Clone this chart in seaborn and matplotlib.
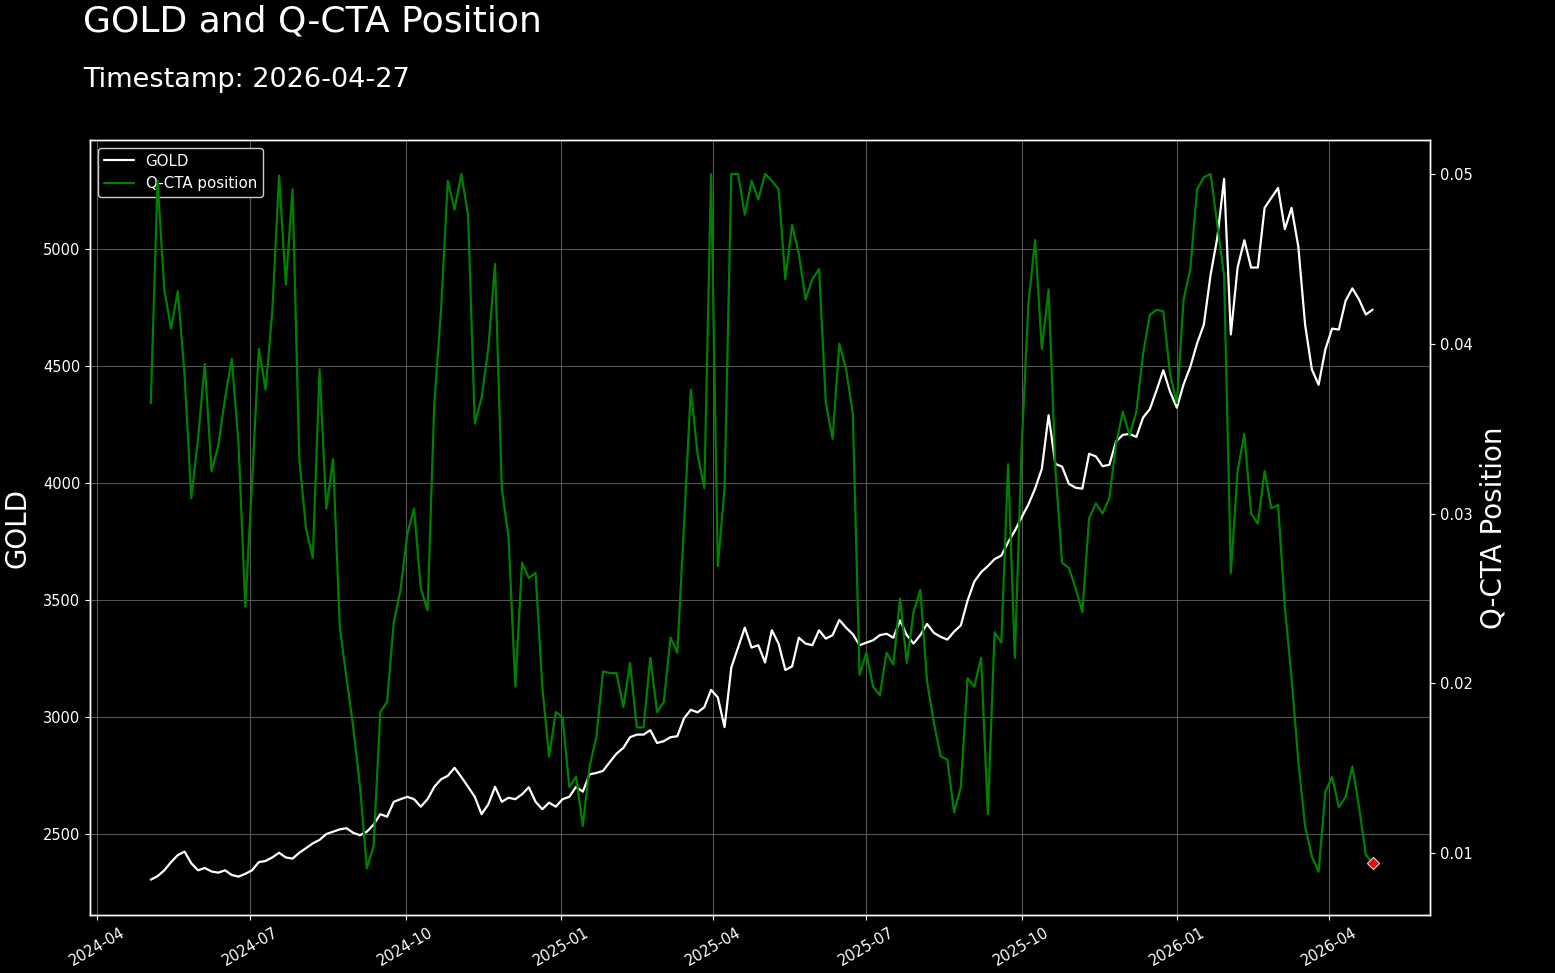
import numpy as np
import pandas as pd
import matplotlib
matplotlib.use("Agg")
import matplotlib.pyplot as plt
import matplotlib.dates as mdates
import seaborn as sns

# ---------------- data ----------------
dates = pd.date_range(end="2026-04-27", periods=182, freq="4D")

gold = [
    2305, 2320, 2345, 2380, 2410, 2425, 2375, 2345, 2355, 2340,
    2335, 2345, 2325, 2318, 2330, 2345, 2380, 2385, 2400, 2420,
    2400, 2395, 2420, 2440, 2460, 2475, 2500, 2510, 2520, 2525,
    2505, 2495, 2510, 2540, 2585, 2574, 2638, 2649, 2659, 2649,
    2617, 2649, 2702, 2734, 2749, 2783, 2744, 2702, 2659, 2585,
    2627, 2702, 2638, 2655, 2649, 2670, 2700, 2638, 2606, 2634,
    2617, 2649, 2659, 2702, 2681, 2755, 2761, 2770, 2808, 2844,
    2868, 2914, 2925, 2925, 2944, 2889, 2897, 2914, 2918, 2995,
    3031, 3020, 3042, 3116, 3084, 2957, 3212, 3297, 3382, 3297,
    3307, 3233, 3371, 3314, 3201, 3216, 3339, 3314, 3307, 3371,
    3335, 3350, 3415, 3382, 3354, 3307, 3318, 3328, 3350, 3356,
    3339, 3413, 3350, 3314, 3350, 3398, 3360, 3343, 3331, 3365,
    3392, 3498, 3579, 3619, 3645, 3675, 3690, 3747, 3796, 3853,
    3908, 3976, 4061, 4290, 4082, 4070, 3997, 3980, 3976, 4125,
    4114, 4072, 4078, 4178, 4206, 4210, 4197, 4280, 4316, 4397,
    4482, 4390, 4322, 4422, 4497, 4597, 4677, 4890, 5049, 5300,
    4635, 4921, 5038, 4921, 4921, 5176, 5219, 5261, 5085, 5176,
    5010, 4677, 4486, 4420, 4571, 4660, 4656, 4779, 4832, 4784,
    4720, 4741,
]

qcta = [
    0.0365, 0.0496, 0.0432, 0.0409, 0.0431, 0.0382, 0.0309, 0.0344, 0.0388, 0.0325,
    0.0340, 0.0368, 0.0391, 0.0341, 0.0245, 0.0318, 0.0397, 0.0373, 0.0419, 0.0499,
    0.0435, 0.0491, 0.0332, 0.0291, 0.0274, 0.0385, 0.0303, 0.0332, 0.0233, 0.0203,
    0.0174, 0.0139, 0.0091, 0.0104, 0.0183, 0.0189, 0.0236, 0.0255, 0.0288, 0.0303,
    0.0256, 0.0243, 0.0365, 0.0420, 0.0496, 0.0479, 0.0500, 0.0476, 0.0353, 0.0368,
    0.0397, 0.0447, 0.0315, 0.0286, 0.0198, 0.0271, 0.0262, 0.0265, 0.0198, 0.0157,
    0.0183, 0.0180, 0.0139, 0.0145, 0.0116, 0.0151, 0.0168, 0.0207, 0.0206, 0.0206,
    0.0186, 0.0212, 0.0174, 0.0174, 0.0215, 0.0183, 0.0189, 0.0227, 0.0218, 0.0294,
    0.0373, 0.0335, 0.0315, 0.0500, 0.0269, 0.0315, 0.0500, 0.0500, 0.0476, 0.0496,
    0.0485, 0.0500, 0.0496, 0.0491, 0.0438, 0.0470, 0.0453, 0.0426, 0.0438, 0.0444,
    0.0365, 0.0344, 0.0400, 0.0385, 0.0359, 0.0205, 0.0218, 0.0198, 0.0193, 0.0218,
    0.0211, 0.0250, 0.0212, 0.0242, 0.0255, 0.0201, 0.0177, 0.0157, 0.0155, 0.0124,
    0.0139, 0.0203, 0.0198, 0.0215, 0.0123, 0.0230, 0.0224, 0.0329, 0.0215, 0.0338,
    0.0423, 0.0461, 0.0397, 0.0432, 0.0327, 0.0271, 0.0268, 0.0256, 0.0242, 0.0297,
    0.0306, 0.0300, 0.0309, 0.0341, 0.0360, 0.0346, 0.0360, 0.0394, 0.0417, 0.0420,
    0.0419, 0.0382, 0.0365, 0.0426, 0.0444, 0.0491, 0.0498, 0.0500, 0.0470, 0.0440,
    0.0265, 0.0325, 0.0347, 0.0300, 0.0294, 0.0325, 0.0303, 0.0305, 0.0245, 0.0203,
    0.0154, 0.0116, 0.0098, 0.0089, 0.0136, 0.0145, 0.0127, 0.0133, 0.0151, 0.0127,
    0.0099, 0.0094,
]

title = "GOLD and Q-CTA Position"
subtitle = "Timestamp: 2026-04-27"
gold_label = "GOLD"
qcta_label = "Q-CTA position"
left_ylabel = "GOLD"
right_ylabel = "Q-CTA Position"

# ---------------- styling ----------------
sns.set_style("dark")
plt.rcParams["font.family"] = ["DejaVu Sans"]

fig = plt.figure(figsize=(15.55, 9.73), dpi=100, facecolor="black")
ax1 = fig.add_axes([0.0579, 0.0596, 0.8617, 0.7965])
ax1.set_facecolor("black")
ax2 = ax1.twinx()

sns.lineplot(x=dates, y=gold, ax=ax1, color="white", linewidth=1.6,
             label=gold_label, legend=False)
sns.lineplot(x=dates, y=qcta, ax=ax2, color="green", linewidth=1.6,
             label=qcta_label, legend=False)
ax2.scatter([dates[-1]], [qcta[-1]], marker="D", color="red",
            edgecolors="lightgray", linewidths=0.8, s=38, zorder=5)

ax1.set_xlim(pd.Timestamp("2024-03-28"), pd.Timestamp("2026-05-31"))
ax1.set_ylim(2154, 5466)
ax2.set_ylim(0.00635, 0.0520)

ax1.xaxis.set_major_locator(mdates.MonthLocator(bymonth=[1, 4, 7, 10]))
ax1.xaxis.set_major_formatter(mdates.DateFormatter("%Y-%m"))

ax1.grid(True, color="#6a6a6a", linewidth=0.8, alpha=0.8)
ax2.grid(False)

for ax in (ax1, ax2):
    for s in ax.spines.values():
        s.set_color("white")
        s.set_linewidth(1.0)
        s.set_visible(True)

ax1.tick_params(axis="both", colors="white", labelcolor="white", labelsize=10.5,
                bottom=True, left=True, length=3.5, width=0.8)
ax1.tick_params(axis="x", labelrotation=30, labelsize=10.5)
for lbl in ax1.get_xticklabels():
    lbl.set_ha("center")
ax2.tick_params(axis="y", colors="white", labelcolor="white", labelsize=10.5,
                right=True, length=3.5, width=0.8)

ax1.set_xlabel("")
ax1.set_ylabel(left_ylabel, color="white", fontsize=20)
ax2.set_ylabel(right_ylabel, color="white", fontsize=20)
ax1.yaxis.set_label_coords(-0.044, 0.5)
ax2.yaxis.set_label_coords(1.037, 0.5)

h1, l1 = ax1.get_legend_handles_labels()
h2, l2 = ax2.get_legend_handles_labels()
leg = ax1.legend(h1 + h2, l1 + l2, loc="upper left", fontsize=10.8,
                 facecolor="black", edgecolor="#cccccc", labelcolor="white",
                 framealpha=1.0)

fig.text(0.0534, 1 - 21 / 973, title, fontsize=26, color="white",
         ha="left", va="center")
fig.text(0.0534, 1 - 80 / 973, subtitle, fontsize=19.5, color="white",
         ha="left", va="center")

fig.savefig("out.png", dpi=100, facecolor="black")
